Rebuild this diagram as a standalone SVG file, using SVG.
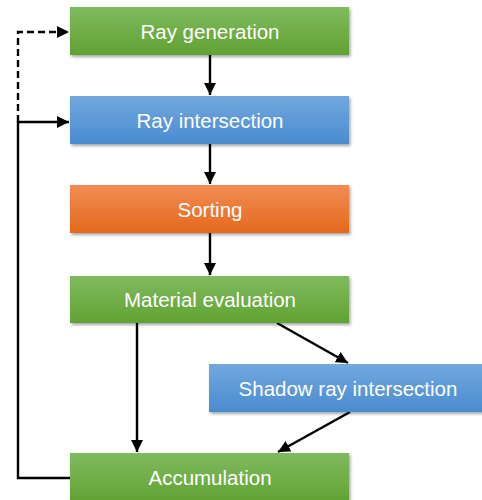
<svg xmlns="http://www.w3.org/2000/svg" width="482" height="500" viewBox="0 0 482 500">
<defs>
<linearGradient id="gGreen" x1="0" y1="0" x2="0" y2="1"><stop offset="0" stop-color="#80ba5e"/><stop offset="1" stop-color="#61a233"/></linearGradient>
<linearGradient id="gBlue" x1="0" y1="0" x2="0" y2="1"><stop offset="0" stop-color="#72a8de"/><stop offset="1" stop-color="#4a8bd0"/></linearGradient>
<linearGradient id="gOrange" x1="0" y1="0" x2="0" y2="1"><stop offset="0" stop-color="#f18c55"/><stop offset="1" stop-color="#e5691c"/></linearGradient>
<filter id="sh" x="-5%" y="-10%" width="115%" height="130%"><feDropShadow dx="1.5" dy="2" stdDeviation="1.5" flood-color="#000" flood-opacity="0.35"/></filter>
<marker id="arr" viewBox="0 0 10 10" refX="10" refY="5" markerWidth="5" markerHeight="5" orient="auto" markerUnits="strokeWidth"><path d="M0,0 L10,5 L0,10 z" fill="#000"/></marker>
</defs>
<style>
.box{filter:url(#sh);}
.lbl{font-family:"Liberation Sans",Arial,sans-serif;font-size:20.5px;fill:#fff;text-anchor:middle;}
.c{stroke:#000;stroke-width:2.4;fill:none;}
</style>
<rect width="482" height="500" fill="#fff"/>
<g id="connectors">
<line class="c" x1="210" y1="55" x2="210" y2="95" marker-end="url(#arr)"/>
<line class="c" x1="210" y1="144" x2="210" y2="184" marker-end="url(#arr)"/>
<line class="c" x1="210" y1="233" x2="210" y2="275" marker-end="url(#arr)"/>
<line class="c" x1="137" y1="323" x2="137" y2="452" marker-end="url(#arr)"/>
<line class="c" x1="277" y1="323" x2="348" y2="363" marker-end="url(#arr)"/>
<line class="c" x1="350" y1="412" x2="278" y2="452" marker-end="url(#arr)"/>
<polyline class="c" points="70,478 18,478 18,122 69,122" marker-end="url(#arr)"/>
<polyline class="c" points="18,122 18,32 69,32" stroke-dasharray="7,4" marker-end="url(#arr)"/>
</g>
<g id="ray-generation"><rect class="box" x="70" y="7" width="279" height="48" fill="url(#gGreen)"/><text class="lbl" x="210" y="39">Ray generation</text></g>
<g id="ray-intersection"><rect class="box" x="70" y="96" width="279" height="48" fill="url(#gBlue)"/><text class="lbl" x="210" y="128">Ray intersection</text></g>
<g id="sorting"><rect class="box" x="70" y="185" width="279" height="48" fill="url(#gOrange)"/><text class="lbl" x="210" y="217">Sorting</text></g>
<g id="material-evaluation"><rect class="box" x="70" y="276" width="279" height="47" fill="url(#gGreen)"/><text class="lbl" x="210" y="307">Material evaluation</text></g>
<g id="shadow-ray-intersection"><rect class="box" x="209" y="364" width="279" height="48" fill="url(#gBlue)"/><text class="lbl" x="348" y="396">Shadow ray intersection</text></g>
<g id="accumulation"><rect class="box" x="70" y="453" width="279" height="50" fill="url(#gGreen)"/><text class="lbl" x="210" y="485">Accumulation</text></g>
</svg>
